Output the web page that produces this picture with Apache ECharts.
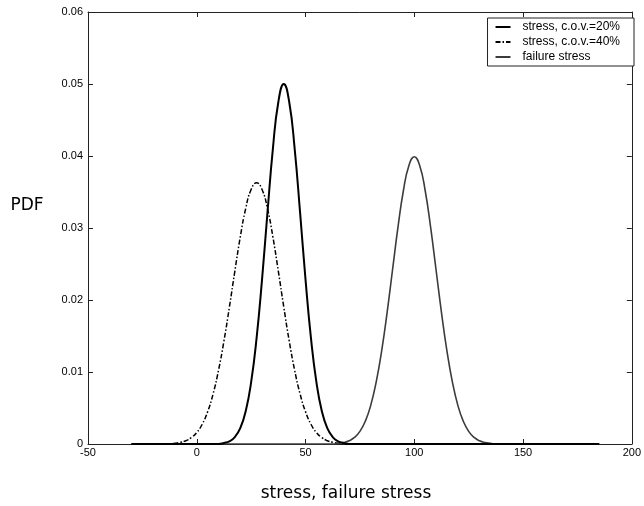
<!DOCTYPE html>
<html>
<head>
<meta charset="utf-8">
<script src="https://cdn.jsdelivr.net/npm/echarts@6/dist/echarts.min.js"></script>
<style>
  html, body { margin: 0; padding: 0; background: #fff; }
  #chart { width: 644px; height: 506px; }
</style>
</head>
<body>
<div id="chart"></div>
<script>
// values
const cov20X = [-30, 10, 12.5, 15, 17.5, 20, 22.5, 25, 27.5, 30, 32.5, 35, 37.5, 40, 42.5, 45, 47.5, 50, 52.5, 55, 57.5, 60, 62.5, 65, 67.5, 70, 185]
const cov20Y = [0, 0, 0.00014, 0.00038, 0.00096, 0.00219, 0.00456, 0.0086, 0.01471, 0.02283, 0.03214, 0.04102, 0.0475, 0.05, 0.0475, 0.04102, 0.03214, 0.02283, 0.01471, 0.0086, 0.00456, 0.00219, 0.00096, 0.00038, 0.00014, 0, 0]

const cov40X = [-30, -12.5, -10, -7.5, -5, -2.5, 0, 2.5, 5, 7.5, 10, 12.5, 15, 17.5, 20, 22.5, 25, 27.5, 30, 32.5, 35, 37.5, 40, 42.5, 45, 47.5, 50, 52.5, 55, 57.5, 60, 62.5, 65, 67.5, 185]
const cov40Y = [0, 0, 0.00011, 0.00023, 0.00046, 0.00088, 0.00159, 0.00274, 0.00448, 0.00695, 0.01024, 0.01431, 0.01902, 0.02399, 0.02875, 0.03271, 0.03535, 0.03627, 0.03535, 0.03271, 0.02875, 0.02399, 0.01902, 0.01431, 0.01024, 0.00695, 0.00448, 0.00274, 0.00159, 0.00088, 0.00046, 0.00023, 0.00011, 0, 0]

const failureX = [-30, 62.5, 65, 67.5, 70, 72.5, 75, 77.5, 80, 82.5, 85, 87.5, 90, 92.5, 95, 97.5, 100, 102.5, 105, 107.5, 110, 112.5, 115, 117.5, 120, 122.5, 125, 127.5, 130, 132.5, 135, 137.5, 185]
const failureY = [0, 0, 0.00009, 0.0002, 0.00044, 0.00091, 0.00175, 0.00317, 0.0054, 0.00863, 0.01295, 0.01826, 0.0242, 0.03011, 0.03521, 0.03866, 0.03989, 0.03866, 0.03521, 0.03011, 0.0242, 0.01826, 0.01295, 0.00863, 0.0054, 0.00317, 0.00175, 0.00091, 0.00044, 0.0002, 0.00009, 0, 0]

const seriesNames = ["stress, c.o.v.=20%", "stress, c.o.v.=40%", "failure stress"]
const xTicks = { min: -50, max: 200, step: 50 }
const yTicks = { min: 0, max: 0.06, step: 0.01 }

function pairs(xs, ys) {
    return xs.map((x, i) => [x, ys[i]])
}

const chart = echarts.init(document.getElementById("chart"), null, { renderer: "canvas" })

const labelFont = { fontFamily: "Liberation Sans, Arial", fontSize: 11, color: "#000" }
const frameLine = { show: true, onZero: false, lineStyle: { color: "#222", width: 1 } }
const innerTick = { show: true, inside: true, length: 5, lineStyle: { color: "#222" } }

let option = {
    animation: false,
    backgroundColor: "#fff",
    grid: { left: 88, right: 7, top: 12, bottom: 62 },
    legend: {
        orient: "vertical",
        right: 10,
        top: 18,
        padding: [3, 14, 3, 7],
        itemWidth: 15,
        itemHeight: 13,
        itemGap: 3,
        backgroundColor: "#fff",
        borderColor: "#222",
        borderWidth: 1,
        borderRadius: 0,
        itemStyle: { color: "rgba(0,0,0,0)", borderWidth: 0 },
        textStyle: { fontFamily: "Liberation Sans, Arial", fontSize: 12, color: "#000", padding: [0, 0, 0, 7] },
        data: seriesNames,
    },
    xAxis: [
        {
            type: "value",
            min: xTicks.min,
            max: xTicks.max,
            interval: xTicks.step,
            axisLine: frameLine,
            axisTick: innerTick,
            splitLine: { show: false },
            axisLabel: { ...labelFont, margin: 3 },
        },
        {
            type: "value",
            position: "top",
            min: xTicks.min,
            max: xTicks.max,
            interval: xTicks.step,
            axisLine: frameLine,
            axisTick: innerTick,
            splitLine: { show: false },
            axisLabel: { show: false },
        },
    ],
    yAxis: [
        {
            type: "value",
            min: yTicks.min,
            max: yTicks.max,
            interval: yTicks.step,
            axisLine: frameLine,
            axisTick: innerTick,
            splitLine: { show: false },
            axisLabel: {
                ...labelFont,
                margin: 5,
                formatter: (v) => (v === 0 ? "0" : v.toFixed(2)),
            },
        },
        {
            type: "value",
            position: "right",
            min: yTicks.min,
            max: yTicks.max,
            interval: yTicks.step,
            axisLine: frameLine,
            axisTick: innerTick,
            splitLine: { show: false },
            axisLabel: { show: false },
        },
    ],
    graphic: [
        {
            type: "text",
            x: 27,
            y: 206,
            style: { text: "PDF", font: '17px "DejaVu Sans"', fill: "#000", align: "center", verticalAlign: "middle" },
        },
        {
            type: "text",
            x: 346,
            y: 494,
            style: { text: "stress, failure stress", font: '17px "DejaVu Sans"', fill: "#000", align: "center", verticalAlign: "middle" },
        },
    ],
    series: [
        {
            name: seriesNames[1],
            type: "line",
            data: pairs(cov40X, cov40Y),
            smooth: true,
            symbol: "none",
            lineStyle: { color: "#000", width: 1.5, type: [5, 2, 1.5, 2] },
            itemStyle: { color: "#000" },
            z: 2,
        },
        {
            name: seriesNames[2],
            type: "line",
            data: pairs(failureX, failureY),
            smooth: true,
            symbol: "none",
            lineStyle: { color: "#3c3c3c", width: 1.6 },
            itemStyle: { color: "#3c3c3c" },
            z: 3,
        },
        {
            name: seriesNames[0],
            type: "line",
            data: pairs(cov20X, cov20Y),
            smooth: true,
            symbol: "none",
            lineStyle: { color: "#000", width: 2 },
            itemStyle: { color: "#000" },
            z: 4,
        },
    ],
}

chart.setOption(option)
</script>
</body>
</html>
